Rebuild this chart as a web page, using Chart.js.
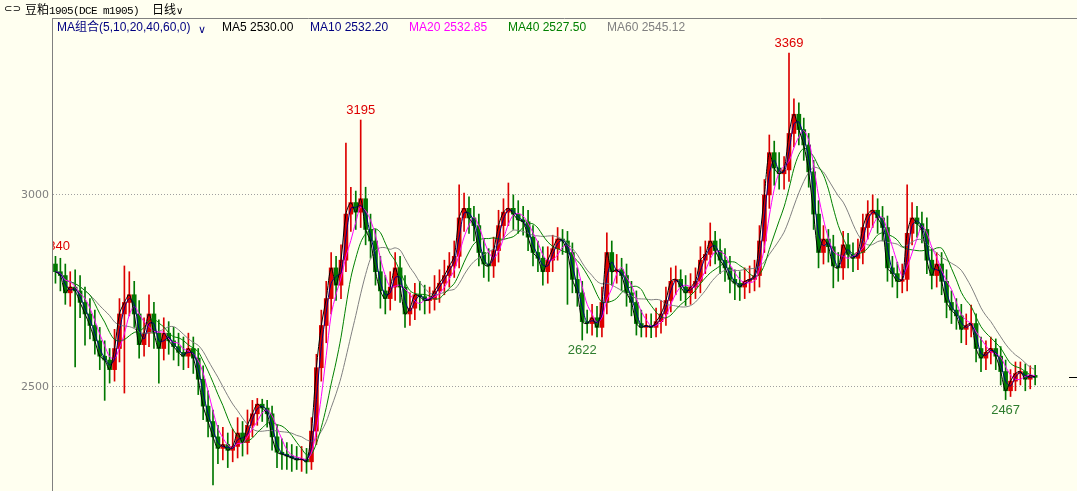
<!DOCTYPE html>
<html>
<head>
<meta charset="utf-8">
<script src="https://cdn.jsdelivr.net/npm/chart.js@4.4.1/dist/chart.umd.min.js"></script>
<style>
  html, body { margin: 0; padding: 0; background: #fffff0; }
  #wrap { position: relative; width: 1077px; height: 491px; overflow: hidden; background: #fffff0; }
  #kline { position: absolute; left: 0; top: 0; }
  .t { position: absolute; white-space: nowrap; font-family: "Liberation Sans", sans-serif; font-size: 12px; line-height: 14px; }
</style>
</head>
<body>
<div id="wrap">
  <canvas id="kline" width="1077" height="491"></canvas>
  <span class="t" style="left:4px;top:2px;font-family:'DejaVu Sans';font-size:10px;color:#000">⊂⊃</span>
  <span class="t" style="left:25px;top:2px;font-family:'Noto Sans CJK SC';font-size:12px;color:#000">豆粕<span style="font-family:'Liberation Mono';font-size:11px;letter-spacing:-0.6px">1905(DCE m1905)</span></span>
  <span class="t" style="left:152px;top:2px;font-family:'Noto Sans CJK SC';font-size:12px;color:#000">日线<span style="font-family:'DejaVu Sans';font-size:10px">∨</span></span>
  <span class="t" style="left:57px;top:20px;color:#000080;font-family:'Liberation Sans','Noto Sans CJK SC'">MA组合(5,10,20,40,60,0)</span>
  <span class="t" style="left:198px;top:23px;color:#000080;font-family:'DejaVu Sans';font-size:11px">∨</span>
  <span class="t" id="lg0" style="left:222px;top:20px;color:#000000"></span>
  <span class="t" id="lg1" style="left:310px;top:20px;color:#000080"></span>
  <span class="t" id="lg2" style="left:409px;top:20px;color:#ff00ff"></span>
  <span class="t" id="lg3" style="left:508px;top:20px;color:#008000"></span>
  <span class="t" id="lg4" style="left:607px;top:20px;color:#808080"></span>
</div>
<script>
        // Candles; the source is very compressed, so each
        // candle here stands for about 5 trading sessions.
        const opens = [
            2820, 2800, 2790, 2745, 2760, 2750, 2720, 2690, 2660, 2620,
            2580, 2570, 2545, 2600, 2690, 2720, 2740, 2690, 2610, 2640,
            2690, 2640, 2600, 2640, 2620, 2605, 2590, 2580, 2600, 2575,
            2520, 2450, 2410, 2370, 2340, 2350, 2335, 2345, 2380, 2355,
            2400, 2430, 2455, 2445, 2430, 2370, 2330, 2325, 2320, 2315,
            2310, 2312, 2305, 2385, 2550, 2660, 2730, 2810, 2765, 2830,
            2950, 2980, 2955, 2990, 2910, 2880, 2800, 2750, 2730, 2760,
            2810, 2760, 2690, 2705, 2740, 2735, 2725, 2728, 2750, 2770,
            2790, 2815, 2840, 2940, 2965, 2940, 2920, 2850, 2820, 2815,
            2855, 2920, 2955, 2965, 2950, 2935, 2930, 2890, 2850, 2835,
            2800, 2830, 2860, 2885, 2880, 2850, 2780, 2745, 2670, 2665,
            2680, 2655, 2720, 2850, 2800, 2805, 2790, 2745, 2720, 2665,
            2655, 2660, 2655, 2670, 2690, 2725, 2775, 2780, 2760, 2745,
            2760, 2775, 2830, 2845, 2880, 2855, 2830, 2810, 2780, 2770,
            2760, 2775, 2780, 2790, 2880, 3000, 3110, 3070, 3055, 3065,
            3160, 3210, 3170, 3130, 3060, 2950, 2850, 2885, 2865, 2815,
            2810, 2870, 2845, 2835, 2850, 2915, 2950, 2960, 2940, 2915,
            2810, 2795, 2775, 2780, 2900, 2940, 2925, 2910, 2830, 2790,
            2820, 2775, 2720, 2700, 2685, 2650, 2660, 2665, 2600, 2575,
            2590, 2600, 2580, 2540, 2490, 2515, 2535, 2540, 2520, 2530
        ];
        const closes = [
            2800, 2790, 2745, 2760, 2750, 2720, 2690, 2660, 2620, 2580,
            2570, 2545, 2600, 2690, 2720, 2740, 2690, 2610, 2640, 2690,
            2640, 2600, 2640, 2620, 2605, 2590, 2580, 2600, 2575, 2520,
            2450, 2410, 2370, 2340, 2350, 2335, 2345, 2380, 2355, 2400,
            2430, 2455, 2445, 2430, 2370, 2330, 2325, 2320, 2315, 2310,
            2312, 2305, 2385, 2550, 2660, 2730, 2810, 2765, 2830, 2950,
            2980, 2955, 2990, 2910, 2880, 2800, 2750, 2730, 2760, 2810,
            2760, 2690, 2705, 2740, 2735, 2725, 2728, 2750, 2770, 2790,
            2815, 2840, 2940, 2965, 2940, 2920, 2850, 2820, 2815, 2855,
            2920, 2955, 2965, 2950, 2935, 2930, 2890, 2850, 2835, 2800,
            2830, 2860, 2885, 2880, 2850, 2780, 2745, 2670, 2665, 2680,
            2655, 2720, 2850, 2800, 2805, 2790, 2745, 2720, 2665, 2655,
            2660, 2655, 2670, 2690, 2725, 2775, 2780, 2760, 2745, 2760,
            2775, 2830, 2845, 2880, 2855, 2830, 2810, 2780, 2770, 2760,
            2775, 2780, 2790, 2880, 3000, 3110, 3070, 3055, 3065, 3160,
            3210, 3170, 3130, 3060, 2950, 2850, 2885, 2865, 2815, 2810,
            2870, 2845, 2835, 2850, 2915, 2950, 2960, 2940, 2915, 2810,
            2795, 2775, 2780, 2900, 2940, 2925, 2910, 2830, 2790, 2820,
            2775, 2720, 2700, 2685, 2650, 2660, 2665, 2600, 2575, 2590,
            2600, 2580, 2540, 2490, 2515, 2535, 2540, 2520, 2530, 2525
        ];
        const highs = [
            2840, 2835, 2820, 2800, 2805, 2790, 2760, 2730, 2700, 2655,
            2620, 2600, 2650, 2730, 2815, 2800, 2775, 2725, 2680, 2740,
            2720, 2675, 2680, 2670, 2655, 2640, 2630, 2640, 2630, 2600,
            2555, 2490, 2440, 2400, 2395, 2380, 2390, 2420, 2410, 2440,
            2465, 2470, 2468, 2465, 2450, 2400, 2365, 2355, 2350, 2345,
            2345, 2340, 2420, 2585, 2700, 2775, 2850, 2840, 2870, 3135,
            3020, 3010, 3195, 3020, 2950, 2910, 2840, 2790, 2800, 2850,
            2840, 2790, 2745, 2770, 2775, 2765, 2760, 2790, 2805, 2830,
            2850, 2880, 3026, 3005, 2995, 2970, 2950, 2885, 2860, 2890,
            2960, 2990, 3031, 3000, 2985, 2970, 2960, 2920, 2880, 2865,
            2865, 2895, 2915, 2910, 2905, 2875, 2810, 2775, 2700, 2715,
            2710, 2760, 2901, 2880, 2845, 2835, 2820, 2775, 2750, 2700,
            2690, 2690, 2705, 2725, 2760, 2810, 2815, 2805, 2790, 2795,
            2810, 2865, 2880, 2927, 2905, 2885, 2860, 2840, 2805, 2800,
            2810, 2815, 2830, 2920, 3040, 3156, 3140, 3110, 3100, 3369,
            3250, 3240, 3200, 3160, 3090, 2985, 2920, 2910, 2895, 2850,
            2905, 2900, 2875, 2885, 2950, 2985, 3000, 2990, 2970, 2945,
            2840, 2825, 2820, 3026, 2980, 2970, 2955, 2940, 2860, 2850,
            2850, 2805, 2750, 2730, 2715, 2690, 2713, 2690, 2630, 2620,
            2630, 2625, 2605, 2570, 2545, 2565, 2565, 2560, 2555, 2556
        ];
        const lows = [
            2770, 2750, 2715, 2710, 2552, 2680, 2609, 2625, 2585, 2545,
            2465, 2510, 2515, 2565, 2484, 2685, 2655, 2575, 2580, 2605,
            2600, 2510, 2570, 2585, 2570, 2555, 2545, 2550, 2535, 2480,
            2415, 2370, 2245, 2300, 2310, 2290, 2305, 2315, 2320, 2325,
            2370, 2400, 2410, 2395, 2335, 2290, 2285, 2285, 2280, 2285,
            2280, 2275, 2285, 2350, 2515, 2615, 2690, 2725, 2730, 2800,
            2905, 2910, 2915, 2870, 2835, 2765, 2705, 2690, 2700, 2725,
            2720, 2655, 2660, 2675, 2700, 2690, 2692, 2700, 2720, 2740,
            2760, 2785, 2810, 2905, 2900, 2880, 2815, 2785, 2775, 2785,
            2825, 2885, 2920, 2910, 2900, 2895, 2855, 2815, 2800, 2765,
            2770, 2800, 2830, 2845, 2715, 2745, 2710, 2622, 2640, 2635,
            2630, 2630, 2690, 2765, 2770, 2750, 2710, 2685, 2635, 2630,
            2630, 2628, 2630, 2640, 2660, 2695, 2740, 2725, 2712, 2715,
            2730, 2745, 2795, 2815, 2820, 2795, 2775, 2745, 2727, 2725,
            2730, 2745, 2750, 2760, 2850, 2965, 3025, 3015, 3015, 3035,
            3125, 3130, 3090, 3020, 2910, 2810, 2820, 2825, 2758, 2775,
            2780, 2810, 2800, 2805, 2820, 2885, 2915, 2900, 2880, 2775,
            2760, 2732, 2745, 2750, 2870, 2890, 2875, 2795, 2755, 2760,
            2740, 2680, 2665, 2650, 2615, 2610, 2630, 2565, 2540, 2545,
            2560, 2545, 2505, 2467, 2475, 2490, 2505, 2490, 2495, 2505
        ];
        const sessionsPerCandle = 5;
        const emptySlots = 8;                  // blank room right of the last candle
        const maPeriods = [5, 10, 20, 40, 60];
        const maColors = ['#000000', '#000080', '#ff00ff', '#008000', '#808080'];
        const maLegend = ['2530.00', '2532.20', '2532.85', '2527.50', '2545.12'];
        const yTicks = [2500, 3000];
        // labelled extremes: [candle index, 'high' | 'low']
        const marks = [[0, 'high'], [62, 'high'], [149, 'high'], [107, 'low'], [193, 'low']];

        const upColor = '#dd0000';
        const downColor = '#007800';

        maPeriods.forEach((p, k) => {
            document.getElementById('lg' + k).textContent = 'MA' + p + ' ' + maLegend[k];
        });

        const slots = Array.from({ length: closes.length + emptySlots }, (_, i) => i + 1);
        const candleColors = closes.map((c, i) => c >= opens[i] ? upColor : downColor);

        function movingAverage(period) {
            const n = Math.max(1, Math.round(period / sessionsPerCandle));
            return closes.map((_, i) => {
                const part = closes.slice(Math.max(0, i - n + 1), i + 1);
                return part.reduce((a, b) => a + b, 0) / part.length;
            });
        }

        const maDatasets = maPeriods.map((p, k) => ({
            type: 'line',
            label: 'MA' + p,
            data: movingAverage(p),
            borderColor: maColors[k],
            borderWidth: 1,
            pointRadius: 0,
            tension: 0.3,
            order: 0
        }));

        const markPlugin = {
            id: 'marks',
            afterDatasetsDraw(chart) {
                const { ctx, chartArea, scales } = chart;
                ctx.save();
                ctx.beginPath();
                ctx.rect(chartArea.left, chartArea.top, chartArea.right - chartArea.left, chartArea.bottom - chartArea.top);
                ctx.clip();
                ctx.font = '13px "Liberation Sans"';
                ctx.textAlign = 'center';
                marks.forEach(([i, kind]) => {
                    const x = scales.x.getPixelForValue(i);
                    if (kind === 'high') {
                        ctx.fillStyle = '#dd0000';
                        ctx.textBaseline = 'bottom';
                        ctx.fillText(String(highs[i]), x, scales.y.getPixelForValue(highs[i]) - 3);
                    } else {
                        ctx.fillStyle = '#2e7d2e';
                        ctx.textBaseline = 'top';
                        ctx.fillText(String(lows[i]), x, scales.y.getPixelForValue(lows[i]) + 4);
                    }
                });
                ctx.restore();
                ctx.save();
                ctx.lineWidth = 1;
                // last price marker at the right edge
                const yl = Math.round(scales.y.getPixelForValue(closes[closes.length - 1])) + 0.5;
                ctx.strokeStyle = '#000000';
                ctx.beginPath();
                ctx.moveTo(chartArea.right - 8, yl);
                ctx.lineTo(chartArea.right, yl);
                ctx.stroke();
                // header separator and left axis line
                ctx.strokeStyle = '#808080';
                ctx.beginPath();
                ctx.moveTo(52, 18.5);
                ctx.lineTo(chartArea.right, 18.5);
                ctx.moveTo(52.5, 18.5);
                ctx.lineTo(52.5, chart.height);
                ctx.stroke();
                ctx.restore();
            }
        };

        new Chart(document.getElementById('kline').getContext('2d'), {
            type: 'bar',
            data: {
                labels: slots,
                datasets: [
                    {
                        label: 'wick',
                        data: closes.map((_, i) => [lows[i], highs[i]]),
                        backgroundColor: candleColors,
                        borderWidth: 0,
                        barThickness: 1,
                        grouped: false,
                        order: 2
                    },
                    {
                        label: 'body',
                        data: closes.map((c, i) => [opens[i], c === opens[i] ? c + 2 : c]),
                        backgroundColor: candleColors,
                        borderWidth: 0,
                        barThickness: 4,
                        grouped: false,
                        order: 1
                    },
                    ...maDatasets
                ]
            },
            options: {
                responsive: false,
                animation: false,
                devicePixelRatio: 1,
                layout: { padding: { top: 19, right: 0, bottom: 0, left: 0 } },
                plugins: {
                    legend: { display: false },
                    tooltip: { enabled: false }
                },
                scales: {
                    x: {
                        display: false,
                        offset: true
                    },
                    y: {
                        min: 2229,
                        max: 3458,
                        afterFit: function(axis) {
                            axis.width = 53;
                            axis.paddingTop = 0;
                            axis.paddingBottom = 0;
                        },
                        afterBuildTicks: function(axis) {
                            axis.ticks = yTicks.map(v => ({ value: v }));
                        },
                        border: { display: false, dash: [1, 2] },
                        grid: {
                            color: '#a0a0a0',
                            drawTicks: false
                        },
                        ticks: {
                            color: '#808080',
                            padding: 4,
                            font: { family: 'DejaVu Sans', size: 11 },
                            callback: function(value) { return String(value); }
                        }
                    }
                }
            },
            plugins: [markPlugin]
        });
</script>
</body>
</html>
